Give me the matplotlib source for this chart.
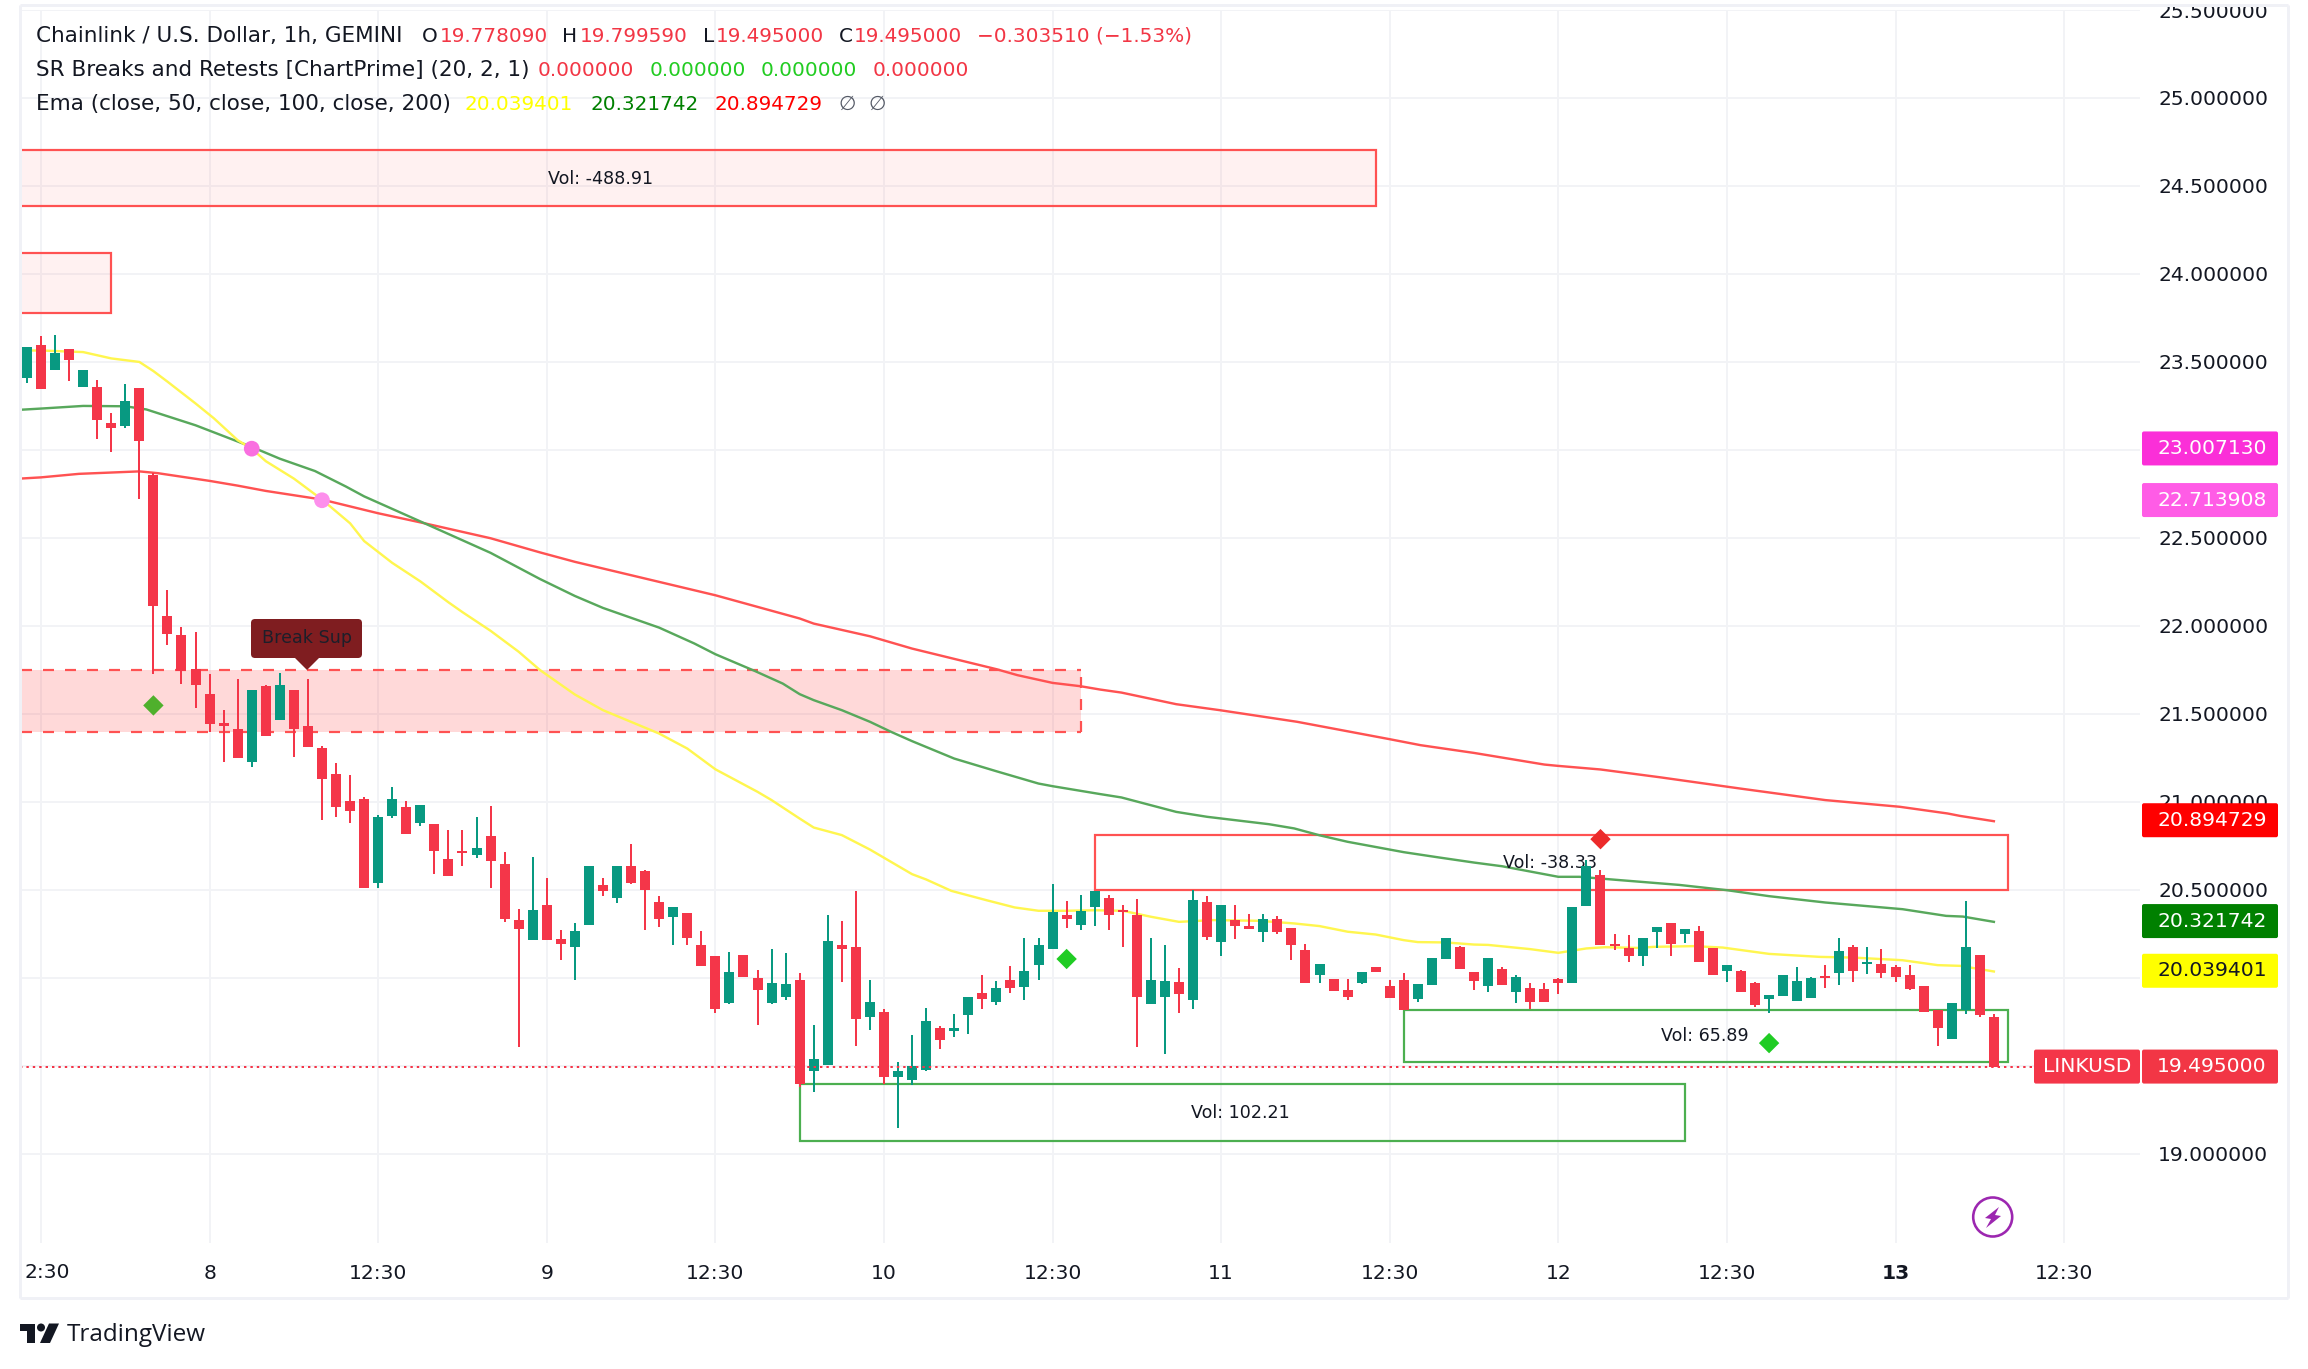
import matplotlib
matplotlib.use("Agg")
import matplotlib.pyplot as plt
from matplotlib.patches import Rectangle, FancyBboxPatch, Polygon, Circle

# ---------- candle data (hourly, index 0 is the 12:30 bar on the 7th) ----------
first_index = -1
opens = [23.41,23.597,23.455,23.574,23.358,23.358,23.154,23.134,23.352,22.857,22.057,21.95,21.756,21.615,21.448,21.415,21.228,21.66,21.466,21.637,21.433,
 21.307,21.159,21.006,21.017,20.541,20.92,20.972,20.88,20.875,20.675,20.723,20.698,20.806,20.649,20.328,20.214,20.413,20.22,20.174,20.299,20.527,20.453,20.634,20.606,20.43,20.345,20.367,20.186,20.123,19.856,20.129,19.998,19.856,19.89,19.987,
 19.47,19.504,20.186,20.174,19.776,19.805,19.436,19.418,19.475,19.714,19.697,19.788,19.913,19.862,19.987,19.947,20.072,20.163,20.356,20.299,20.402,20.453,20.384,20.356,19.85,19.89,19.975,19.873,20.43,20.203,20.328,20.294,20.259,20.333,20.282,20.157,20.015,19.992,19.93,19.97,20.061,19.953,19.987,19.879,19.958,20.106,20.174,20.032,19.953,20.049,19.919,19.941,19.936,19.992,19.97,20.407,20.583,20.191,20.168,20.123,20.259,20.311,20.248,20.265,20.168,20.038,20.038,19.97,19.879,19.896,19.867,19.884,20.009,20.027,20.174,20.078,20.078,20.061,20.015,19.953,19.816,19.651,19.816,20.129,19.776]
highs = [23.585,23.646,23.653,23.574,23.455,23.399,23.21,23.376,23.352,22.869,22.206,21.994,21.965,21.727,21.523,21.698,21.637,21.664,21.734,21.637,21.698,
 21.318,21.222,21.154,21.028,20.927,21.085,21.006,20.983,20.875,20.842,20.842,20.914,20.977,20.716,20.39,20.685,20.566,20.271,20.311,20.634,20.566,20.634,20.759,20.612,20.464,20.402,20.367,20.265,20.123,20.146,20.129,20.044,20.163,20.14,20.027,
 19.731,20.356,20.322,20.492,19.987,19.822,19.521,19.674,19.828,19.725,19.794,19.89,20.015,19.981,20.066,20.225,20.225,20.532,20.436,20.47,20.492,20.47,20.413,20.447,20.225,20.186,20.055,20.498,20.464,20.413,20.413,20.362,20.362,20.35,20.282,20.191,20.078,19.992,19.992,20.032,20.061,19.987,20.027,19.964,20.112,20.225,20.18,20.032,20.112,20.061,20.015,19.97,19.97,19.998,20.402,20.669,20.612,20.248,20.242,20.225,20.288,20.311,20.277,20.294,20.168,20.072,20.044,19.975,19.902,20.015,20.061,20.004,20.072,20.225,20.186,20.174,20.163,20.072,20.072,19.953,19.816,19.856,20.436,20.129,19.794]
lows = [23.381,23.347,23.455,23.392,23.358,23.062,22.99,23.125,22.722,21.729,21.891,21.671,21.534,21.399,21.228,21.251,21.199,21.374,21.466,21.255,21.314,
 20.898,20.914,20.88,20.511,20.511,20.909,20.817,20.864,20.59,20.579,20.637,20.682,20.511,20.316,19.608,20.214,20.214,20.1,19.987,20.299,20.464,20.424,20.532,20.271,20.288,20.186,20.186,20.066,19.799,19.85,20.004,19.731,19.85,19.873,19.379,
 19.35,19.504,19.975,19.612,19.703,19.396,19.146,19.39,19.47,19.595,19.663,19.68,19.822,19.845,19.913,19.873,19.987,20.163,20.282,20.271,20.294,20.271,20.174,19.606,19.85,19.566,19.799,19.822,20.214,20.123,20.22,20.277,20.203,20.248,20.1,19.97,19.97,19.924,19.873,19.964,20.032,19.884,19.816,19.862,19.958,20.106,20.049,19.93,19.919,19.958,19.856,19.822,19.862,19.907,19.97,20.407,20.186,20.157,20.089,20.066,20.168,20.123,20.197,20.089,20.015,19.975,19.919,19.833,19.799,19.896,19.867,19.884,19.941,19.958,19.975,20.021,19.998,19.975,19.93,19.805,19.612,19.651,19.794,19.776,19.495]
closes = [23.585,23.347,23.552,23.511,23.455,23.172,23.125,23.28,23.051,22.114,21.954,21.745,21.664,21.444,21.433,21.251,21.637,21.374,21.664,21.415,21.314,
 21.132,20.972,20.95,20.511,20.914,21.017,20.817,20.983,20.723,20.579,20.711,20.738,20.664,20.333,20.277,20.385,20.214,20.191,20.265,20.634,20.492,20.634,20.538,20.498,20.333,20.402,20.225,20.066,19.822,20.032,20.004,19.93,19.97,19.964,19.396,
 19.538,20.208,20.163,19.765,19.862,19.436,19.47,19.498,19.754,19.646,19.714,19.89,19.879,19.941,19.941,20.038,20.186,20.373,20.333,20.379,20.492,20.356,20.373,19.89,19.987,19.981,19.907,20.441,20.231,20.413,20.294,20.277,20.333,20.259,20.186,19.97,20.078,19.924,19.89,20.032,20.032,19.884,19.816,19.964,20.112,20.225,20.049,19.981,20.112,19.958,20.004,19.862,19.862,19.97,20.402,20.634,20.186,20.18,20.123,20.225,20.288,20.191,20.277,20.089,20.015,20.072,19.919,19.845,19.902,20.015,19.981,19.998,19.998,20.152,20.038,20.089,20.027,20.004,19.936,19.805,19.714,19.856,20.174,19.788,19.495]

# ---------- moving averages (vertices) ----------
ema50_k = [-1.5,0,3,5,7,8,9,11,12.3,14,15,16,18,20,22,23,25,27,29,30,32,34,35.5,38,40,44,46,48,51,52,54,55,57,59,62,63,64.8,67.3,69.3,71,73,75,77,79,81,83.4,86.7,89.2,91,93,95,97,98,100,102,103,106,108,110,111.3,113.6,114.8,117.6,119.7,123,126.6,129,132.5,135,136.6,139]
ema50_v = [23.565,23.565,23.556,23.52,23.5,23.448,23.388,23.264,23.18,23.055,23.007,22.936,22.837,22.718,22.583,22.482,22.358,22.253,22.134,22.078,21.972,21.853,21.75,21.61,21.521,21.388,21.303,21.185,21.057,21.01,20.905,20.854,20.811,20.729,20.589,20.559,20.494,20.441,20.4,20.381,20.381,20.384,20.381,20.347,20.318,20.328,20.324,20.309,20.294,20.262,20.246,20.214,20.203,20.201,20.189,20.187,20.163,20.142,20.167,20.174,20.17,20.176,20.18,20.172,20.136,20.119,20.115,20.1,20.072,20.068,20.036]
ema100_k = [-1.5,0,3,6,7.5,11,15,17,19.5,21.7,23,27.3,32,35.5,38,40,44,46.5,48,50.8,52.8,54,55,57,59,60.5,62,65,68,71,72,75.4,76.9,80.8,83,87.4,89.2,91,93,97,99.5,102,104,108,109.5,112.4,116.6,120,123,127,132.5,135.6,136.8,139]
ema100_v = [23.228,23.235,23.25,23.248,23.23,23.14,23.017,22.95,22.88,22.792,22.736,22.583,22.415,22.267,22.17,22.102,21.99,21.9,21.839,21.744,21.672,21.612,21.578,21.521,21.455,21.398,21.345,21.246,21.174,21.104,21.089,21.044,21.025,20.943,20.915,20.873,20.849,20.81,20.773,20.714,20.684,20.655,20.634,20.574,20.574,20.555,20.528,20.498,20.464,20.428,20.39,20.352,20.348,20.318]
ema200_k = [-1.5,0,2.7,7,8.3,12,14,16,20,24,27.3,32,35.5,38,48,54,55,59,62,68,69.5,72,74,75.4,76.9,80.8,83.9,89.4,96,98.2,102,107,107.9,111,115.2,121,127,132.3,135.7,136.6,139]
ema200_v = [22.837,22.844,22.864,22.878,22.868,22.824,22.797,22.767,22.718,22.64,22.583,22.498,22.418,22.364,22.174,22.042,22.013,21.941,21.871,21.754,21.72,21.676,21.657,21.638,21.621,21.555,21.521,21.455,21.356,21.322,21.278,21.212,21.205,21.184,21.14,21.075,21.01,20.972,20.934,20.92,20.89]

# ---------- zones, boxes, labels, signals ----------
price_ticks = [19.0,19.5,20.0,20.5,21.0,21.5,22.0,22.5,23.0,23.5,24.0,24.5,25.0,25.5]
price_labels = ["19.000000","","","20.500000","21.000000","21.500000","22.000000","22.500000","","23.500000","24.000000","24.500000","25.000000","25.500000"]
time_ticks = [12,24,36,48,60,72,84,96,108,120,132,144]
time_labels = ["8","12:30","9","12:30","10","12:30","11","12:30","12","12:30","13","12:30"]
zone_left, zone_right, zone_low, zone_high = -5, 74, 21.397, 21.75
box_left = [-10,-10,75,54,97]
box_right = [95,5,140,117,140]
box_low = [24.385,23.778,20.5,19.072,19.521]
box_high = [24.703,24.12,20.814,19.396,19.816]
box_kind = ["red_fill","red_fill","red","green","green"]
vol_text = ["Vol: -488.91","Vol: -38.33","Vol: 102.21","Vol: 65.89"]
vol_k = [39.8,107.4,85.4,118.4]
vol_p = [24.54,20.651,19.231,19.67]
diamond_k = [8,73,123,111]
diamond_p = [21.548,20.107,19.629,20.788]
diamond_c = ["#4fb02c","#20cc24","#20cc24","#ec2a2a"]
cross_k = [15,20]
cross_p = [23.00713,22.713908]
cross_c = ["#f96fe0","#fd8fec"]
last_price = 19.495
tag_prices = [23.00713,22.713908,20.894729,20.321742,20.039401,19.495]
tag_texts = ["23.007130","22.713908","20.894729","20.321742","20.039401","19.495000"]
tag_bg = ["#fb2fd8","#ff5ce6","#ff0000","#008000","#ffff00","#f23645"]
tag_fg = ["white","white","white","white","#131722","white"]

W, H = 2308, 1369
DARK = "#131722"
GRID = "#f2f3f6"
FRAME = "#f0f1f6"
UP, DOWN = "#089981", "#f43649"
PX = 0.72

fig = plt.figure(figsize=(W/100, H/100), dpi=100, facecolor="white")
ax = fig.add_axes([20/W, (H-1243)/H, 2120/W, 1233/H])
ax.set_xlim(-1.495, 149.4)
ax.set_ylim(18.493, 25.498)
for s in ax.spines.values():
    s.set_visible(False)
ax.set_axisbelow(True)
ax.grid(True, color=GRID, lw=2*PX)
ax.yaxis.tick_right()
ax.set_yticks(price_ticks)
ax.set_yticklabels(price_labels, fontsize=14.6, color=DARK, family="DejaVu Sans")
ax.set_xticks([0]+time_ticks)
ax.set_xticklabels([""]+time_labels, fontsize=14.6, color=DARK, family="DejaVu Sans")
ax.get_xticklabels()[11].set_fontweight("bold")
ax.tick_params(axis="both", length=0)
ax.tick_params(axis="y", pad=13)
ax.tick_params(axis="x", pad=15)

# zone
ax.add_patch(Rectangle((zone_left, zone_low), zone_right-zone_left, zone_high-zone_low,
                       fc=(1,0.32,0.32,0.22), ec="none", zorder=1))
for yv in (zone_low, zone_high):
    ax.plot([zone_left, zone_right], [yv, yv], color="#ff5252", lw=2.2*PX, ls=(0,(5,5)), zorder=1.4)
ax.plot([zone_right, zone_right], [zone_low, zone_high], color="#ff5252", lw=2.2*PX, ls=(0,(5,5)), zorder=1.4)

# boxes
styles = {"red_fill": ("#ff5252", (1,0.32,0.32,0.08)), "red": ("#ff5252","none"), "green": ("#4caf50","none")}
for l, r, lo, hi, kind in zip(box_left, box_right, box_low, box_high, box_kind):
    ec, fc = styles[kind]
    ax.add_patch(Rectangle((l, lo), r-l, hi-lo, fc=fc, ec=ec, lw=2.2*PX, zorder=1.5))
for k, p, t in zip(vol_k, vol_p, vol_text):
    ax.text(k, p, t, ha="center", va="center", fontsize=12.6, color=DARK, zorder=2.5)

# EMAs
line_kw = dict(lw=2.4*PX, zorder=2, solid_joinstyle="round")
ax.plot(ema200_k, ema200_v, color="#ff5252", **line_kw)
ax.plot(ema100_k, ema100_v, color="#58a85c", **line_kw)
ax.plot(ema50_k, ema50_v, color="#fff64f", **line_kw)

# candles
idx = [first_index+i for i in range(len(opens))]
cols = [UP if c > o else DOWN for o, c in zip(opens, closes)]
ax.vlines(idx, lows, highs, colors=cols, lw=2*PX, zorder=3)
ax.bar(idx, [abs(c-o) for o, c in zip(opens, closes)], bottom=[min(o, c) for o, c in zip(opens, closes)],
       width=10/14.05, color=cols, lw=0, zorder=3.1)

# last-price dotted line
ax.axhline(last_price, color=DOWN, lw=2*PX, ls=(0,(1.2,2.0)), zorder=3.5)

# signals
ax.scatter(diamond_k, diamond_p, marker="D", s=108, c=diamond_c, lw=0, zorder=4)
ax.scatter(cross_k, cross_p, marker="o", s=128, c=cross_c, lw=0, zorder=4)

# overlay in pixel units for the chrome
ov = fig.add_axes([0, 0, 1, 1], zorder=5)
ov.set_xlim(0, W)
ov.set_ylim(H, 0)
ov.axis("off")
ov.patch.set_alpha(0)

def ypx(p):
    return 889.7 + (20.5-p)*176.0

# frame
for xs, ys in [((20,20),(5,1298)), ((20,2288),(1298,1298)), ((2288,2288),(5,1298)), ((20,2288),(5,5))]:
    ov.plot(xs, ys, color=FRAME, lw=3*PX, solid_capstyle="butt")

# break label
ov.add_patch(FancyBboxPatch((254, 622), 105, 33, boxstyle="round,pad=3,rounding_size=4", fc="#7f1d20", ec="none"))
ov.add_patch(Polygon([[294,657],[307,670],[320,657]], fc="#7f1d20", ec="none"))
ov.text(307, 638, "Break Sup", ha="center", va="center", fontsize=12.6, color="#1d1f2a")

# price tags
for p, t, bg, fg in zip(tag_prices, tag_texts, tag_bg, tag_fg):
    y = ypx(p)
    ov.add_patch(FancyBboxPatch((2143, y-16), 134, 32, boxstyle="round,pad=1,rounding_size=2", fc=bg, ec="none"))
    ov.text(2212, y, t, ha="center", va="center", fontsize=14.6, color=fg)
y = ypx(last_price)
ov.add_patch(FancyBboxPatch((2035, y-16), 104, 32, boxstyle="round,pad=1,rounding_size=2", fc=DOWN, ec="none"))
ov.text(2087, y, "LINKUSD", ha="center", va="center", fontsize=14.6, color="white")

# clipped first time label
ov.text(47, 1273, "2:30", ha="center", va="center", fontsize=14.6, color=DARK)

# legend lines: (x, y, text, colour, size)
RED, GRN = "#f23645", "#22cc22"
LABEL, VALUE = 15.5, 14.4
legend = [
 (36,36,"Chainlink / U.S. Dollar, 1h, GEMINI",DARK,LABEL),(422,36,"O",DARK,VALUE),(440,36,"19.778090",RED,VALUE),
 (562,36,"H",DARK,VALUE),(580,36,"19.799590",RED,VALUE),(703,36,"L",DARK,VALUE),(716,36,"19.495000",RED,VALUE),
 (839,36,"C",DARK,VALUE),(854,36,"19.495000",RED,VALUE),(977,36,"\u22120.303510 (\u22121.53%)",RED,VALUE),
 (36,70,"SR Breaks and Retests [ChartPrime] (20, 2, 1)",DARK,LABEL),(538,70,"0.000000",RED,VALUE),(650,70,"0.000000",GRN,VALUE),
 (761,70,"0.000000",GRN,VALUE),(873,70,"0.000000",RED,VALUE),
 (36,104,"Ema (close, 50, close, 100, close, 200)",DARK,LABEL),(465,104,"20.039401","#ffff00",VALUE),
 (590,104,"20.321742","#008000",VALUE),(714,104,"20.894729","#ff0000",VALUE),(839,104,"\u2205","#555a66",VALUE),(868,104,"\u2205","#555a66",VALUE),
]
for x, y, t, c, fs in legend:
    ov.text(x, y, t, ha="left", va="center", fontsize=fs, color=c)

# lightning badge
ov.add_patch(Circle((1992.7, 1217), 19.5, fc="white", ec="#9c27b0", lw=2.6*PX))
ov.add_patch(Polygon([[1999,1207],[1985,1218],[1991,1219],[1986,1228],[2001,1216],[1995,1215]], fc="#9c27b0", ec="none"))

# logo
ov.add_patch(Polygon([[20,1323.5],[35,1323.5],[35,1343],[27,1343],[27,1331],[20,1331]], fc=DARK, ec="none"))
ov.add_patch(Circle((41, 1327.5), 4, fc=DARK, ec="none"))
ov.add_patch(Polygon([[49,1323.5],[59,1323.5],[50,1343],[40,1343]], fc=DARK, ec="none"))
ov.text(67, 1335, "TradingView", ha="left", va="center", fontsize=17.5, color=DARK, family="Open Sans")

fig.savefig("out.png", dpi=100, facecolor="white")
